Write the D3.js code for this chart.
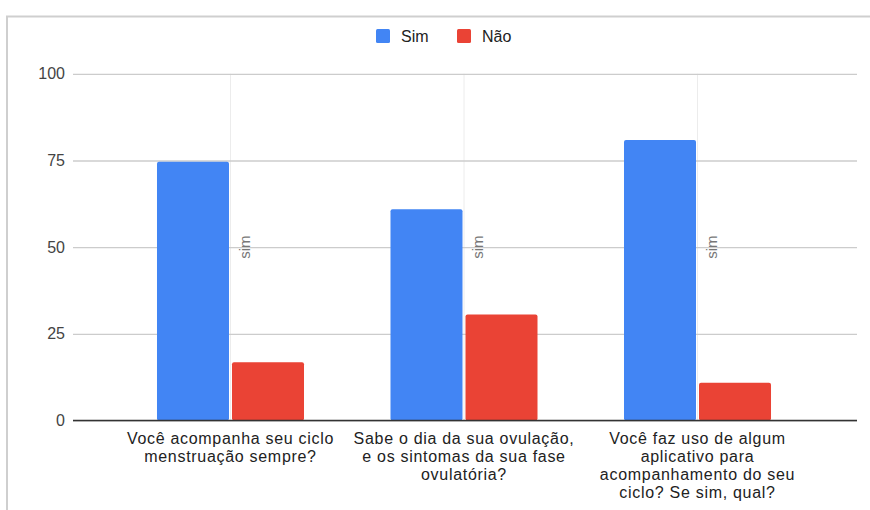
<!DOCTYPE html>
<html>
<head>
<meta charset="utf-8">
<script src="https://cdn.jsdelivr.net/npm/d3@7"></script>
<style>
  html, body { margin: 0; padding: 0; background: #fff; }
  svg { display: block; font-family: "Liberation Sans", Arial, sans-serif; }
</style>
</head>
<body>
<svg id="chart" width="870" height="510"></svg>
<script>
// Survey questions (x categories), one label line per array entry
const categories = [
  ["Você acompanha seu ciclo", "menstruação sempre?"],
  ["Sabe o dia da sua ovulação,", "e os sintomas da sua fase", "ovulatória?"],
  ["Você faz uso de algum", "aplicativo para", "acompanhamento do seu", "ciclo? Se sim, qual?"]
];
const seriesNames = ["Sim", "Não"];
const simValues = [74.6, 60.9, 80.9];
const naoValues = [16.8, 30.6, 10.9];
const yTicks = [0, 25, 50, 75, 100];
const annotationText = "sim";
const annotationLevel = 50;

const colors = { "Sim": "#4285f4", "Não": "#ea4335" };

const svg = d3.select("#chart");
const catKeys = categories.map((c, i) => "q" + i);
const rows = catKeys.map((k, i) => ({ key: k, lines: categories[i], Sim: simValues[i], "Não": naoValues[i] }));

const plotLeft = 73, plotRight = 857, plotTop = 73.8, plotBottom = 420.5;

const y = d3.scaleLinear().domain([0, 100]).range([plotBottom, plotTop]);
const x0 = d3.scaleBand().domain(catKeys).range([70.5, 857.5]).paddingInner(0.3704).paddingOuter(0.3704);
const x1 = d3.scaleBand().domain(seriesNames).range([0, x0.bandwidth()]).paddingInner(0.04);

// outer frame (top and left edges)
svg.append("line").attr("x1", 6).attr("x2", 870).attr("y1", 16.5).attr("y2", 16.5)
  .attr("stroke", "#cfcfcf").attr("stroke-width", 2);
svg.append("line").attr("x1", 7).attr("x2", 7).attr("y1", 16).attr("y2", 510)
  .attr("stroke", "#cfcfcf").attr("stroke-width", 2);

// vertical minor gridlines through category centres
svg.append("g").selectAll("line").data(catKeys).join("line")
  .attr("x1", d => x0(d) + x0.bandwidth() / 2).attr("x2", d => x0(d) + x0.bandwidth() / 2)
  .attr("y1", plotTop).attr("y2", plotBottom)
  .attr("stroke", "#ececec").attr("stroke-width", 1);

// horizontal gridlines + tick labels
const yAxis = d3.axisLeft(y).tickValues(yTicks).tickSize(-(plotRight - plotLeft)).tickPadding(8);
const yg = svg.append("g").attr("transform", `translate(${plotLeft},0)`).call(yAxis);
yg.select(".domain").remove();
yg.selectAll(".tick line").attr("stroke", "#cccccc").attr("stroke-width", 1.3);
yg.selectAll(".tick text").attr("fill", "#444").attr("font-size", 16)
  .attr("font-family", "Liberation Sans, Arial, sans-serif");

// bars
const groups = svg.append("g").selectAll("g").data(rows).join("g")
  .attr("transform", d => `translate(${x0(d.key)},0)`);
groups.selectAll("rect").data(d => seriesNames.map(s => ({ s, v: d[s] }))).join("rect")
  .attr("x", d => x1(d.s))
  .attr("width", x1.bandwidth())
  .attr("y", d => y(d.v))
  .attr("height", d => y(0) - y(d.v))
  .attr("rx", 2).attr("ry", 2)
  .attr("fill", d => colors[d.s]);

// baseline
svg.append("line").attr("x1", plotLeft).attr("x2", plotRight)
  .attr("y1", y(0)).attr("y2", y(0)).attr("stroke", "#333").attr("stroke-width", 1.5);

// "sim" annotations beside each blue bar
groups.append("text")
  .attr("transform", d => `translate(${x1("Sim") + x1.bandwidth() + 21},${y(annotationLevel)}) rotate(-90)`)
  .attr("text-anchor", "middle")
  .attr("fill", "#777").attr("font-size", 15)
  .text(annotationText);

// category labels (one text element per line)
const lineGap = 18;
const labelLines = rows.flatMap(d => d.lines.map((t, i) => ({ t, i, cx: x0(d.key) + x0.bandwidth() / 2 })));
svg.append("g").selectAll("text").data(labelLines).join("text")
  .attr("text-anchor", "middle")
  .attr("fill", "#222").attr("font-size", 16)
  .attr("letter-spacing", 0.7)
  .attr("x", d => d.cx)
  .attr("y", d => 444 + d.i * lineGap)
  .text(d => d.t);

// legend
const legend = svg.append("g").attr("transform", "translate(376,29)");
const items = [{ s: "Sim", x: 0 }, { s: "Não", x: 81 }];
const li = legend.selectAll("g").data(items).join("g").attr("transform", d => `translate(${d.x},0)`);
li.append("rect").attr("width", 14).attr("height", 14).attr("rx", 1.5).attr("fill", d => colors[d.s]);
li.append("text").attr("x", 25).attr("y", 13).attr("fill", "#222").attr("font-size", 16).text(d => d.s);
</script>
</body>
</html>
